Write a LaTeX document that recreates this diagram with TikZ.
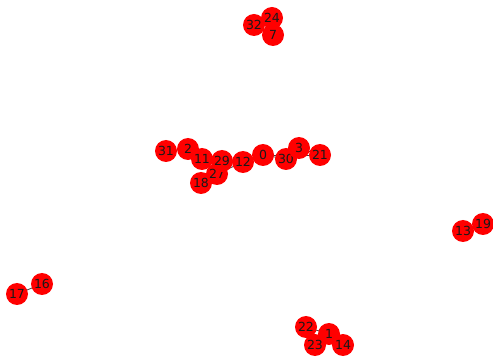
\documentclass[tikz,border=0pt]{standalone}
\usepackage{fontspec}
\setmainfont{DejaVu Sans}
\usetikzlibrary{backgrounds}
\begin{document}
\begin{tikzpicture}[x=1pt,y=-1pt,
  vtx/.style={circle,fill=red,draw=none,minimum size=22pt,inner sep=0pt,font=\fontsize{12.5}{12.5}\selectfont,text=black!90},
  edg/.style={draw=black!75,line width=0.8pt}]
\useasboundingbox (0,0) rectangle (493,358);
\node[vtx] (n31) at (166,151) {31};
\node[vtx] (n2) at (188,149) {2};
\node[vtx] (n11) at (202,159) {11};
\node[vtx] (n18) at (201,183) {18};
\node[vtx] (n27) at (217,174) {27};
\node[vtx] (n29) at (222,161) {29};
\node[vtx] (n12) at (243,162) {12};
\node[vtx] (n0) at (263,155) {0};
\node[vtx] (n30) at (286,159) {30};
\node[vtx] (n3) at (299,148) {3};
\node[vtx] (n21) at (320,155) {21};
\node[vtx] (n32) at (254,25) {32};
\node[vtx] (n24) at (272,18) {24};
\node[vtx] (n7) at (273,35) {7};
\node[vtx] (n22) at (306,327) {22};
\node[vtx] (n1) at (329,334) {1};
\node[vtx] (n23) at (315,345) {23};
\node[vtx] (n14) at (343,345) {14};
\node[vtx] (n17) at (17,294) {17};
\node[vtx] (n16) at (42,284) {16};
\node[vtx] (n13) at (463,231) {13};
\node[vtx] (n19) at (483,224) {19};
\begin{scope}[on background layer]
\draw[edg] (n31.center) -- (n2.center);
\draw[edg] (n2.center) -- (n11.center);
\draw[edg] (n11.center) -- (n29.center);
\draw[edg] (n29.center) -- (n12.center);
\draw[edg] (n27.center) -- (n12.center);
\draw[edg] (n29.center) -- (n27.center);
\draw[edg] (n18.center) -- (n27.center);
\draw[edg] (n12.center) -- (n0.center);
\draw[edg] (n0.center) -- (n30.center);
\draw[edg] (n0.center) -- (n21.center);
\draw[edg] (n30.center) -- (n3.center);
\draw[edg] (n3.center) -- (n21.center);
\draw[edg] (n32.center) -- (n24.center);
\draw[edg] (n32.center) -- (n7.center);
\draw[edg] (n22.center) -- (n1.center);
\draw[edg] (n1.center) -- (n23.center);
\draw[edg] (n1.center) -- (n14.center);
\draw[edg] (n17.center) -- (n16.center);
\draw[edg] (n13.center) -- (n19.center);
\end{scope}
\end{tikzpicture}
\end{document}
